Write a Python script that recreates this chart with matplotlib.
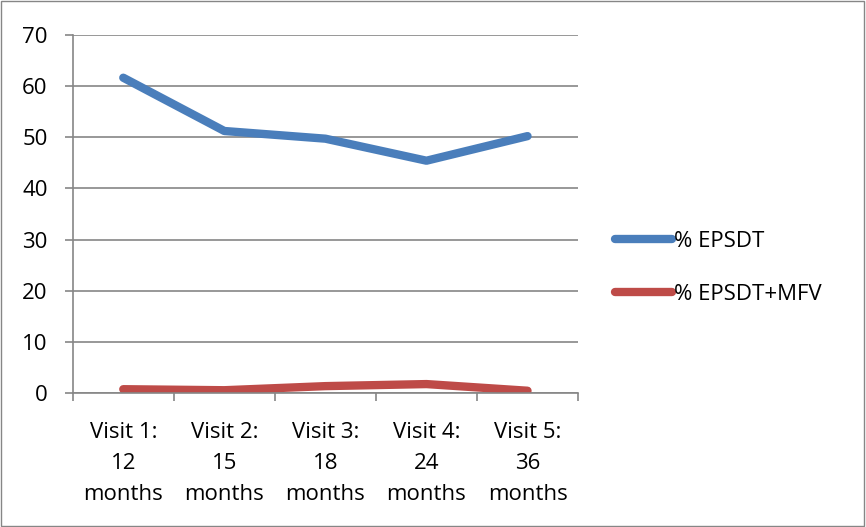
import matplotlib.pyplot as plt
import numpy as np

# visit categories and percentages
visits = ["Visit 1:\n12\nmonths", "Visit 2:\n15\nmonths", "Visit 3:\n18\nmonths",
          "Visit 4:\n24\nmonths", "Visit 5:\n36\nmonths"]
epsdt = [61.6, 51.2, 49.7, 45.4, 50.2]
epsdt_mfv = [0.8, 0.6, 1.4, 1.8, 0.5]

plt.rcParams['font.family'] = ['Open Sans', 'DejaVu Sans']
grey = '#868686'
fs = 16

fig = plt.figure(figsize=(8.66, 5.27), dpi=100)
fig.patches.append(plt.Rectangle((0.001, 0.001), 0.997, 0.997, transform=fig.transFigure,
                                 fill=False, edgecolor=grey, linewidth=1))
# plot area: x 72.7..578 px, y 34.7..393.3 px
ax = fig.add_axes([0.084, 0.2537, 0.5835, 0.6805])

x = np.arange(len(visits))
ax.plot(x, epsdt, color='#4A7EBB', linewidth=6, solid_capstyle='round',
        solid_joinstyle='round', label='% EPSDT')
ax.plot(x, epsdt_mfv, color='#BE4B48', linewidth=6, solid_capstyle='round',
        solid_joinstyle='round', label='% EPSDT+MFV')

ax.set_xlim(-0.5, len(visits) - 0.5)
ax.set_ylim(0, 70)
ax.set_yticks(range(0, 71, 10))
ax.yaxis.grid(True, color=grey, linewidth=1.2)
ax.set_axisbelow(True)

ax.set_xticks(x)
ax.set_xticklabels(visits, linespacing=1.62)
ax.set_xticks(np.arange(-0.5, len(visits)), minor=True)
ax.tick_params(axis='x', which='major', length=0, pad=20.5, labelsize=fs)
ax.tick_params(axis='x', which='minor', length=6, color=grey, width=1.2)
ax.tick_params(axis='y', length=6, color=grey, width=1.2, labelsize=fs, pad=12)

for side in ['top', 'right']:
    ax.spines[side].set_visible(False)
for side in ['left', 'bottom']:
    ax.spines[side].set_color(grey)
    ax.spines[side].set_linewidth(1.2)

ax.legend(loc='center left', bbox_to_anchor=(1.033, 0.35), frameon=False, fontsize=fs,
          handlelength=2.57, handletextpad=0.1, labelspacing=1.45)

fig.savefig('out.png', dpi=100)
